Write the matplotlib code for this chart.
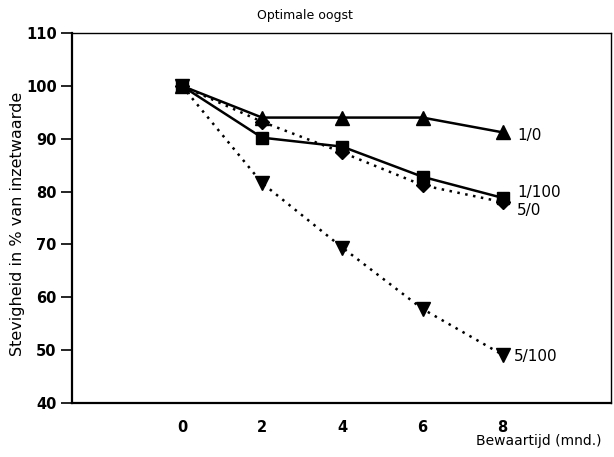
import matplotlib.pyplot as plt

# storage time in months
months = [0, 2, 4, 6, 8]

# firmness as % of initial value, per storage condition
firm_1_0 = [100, 94, 94, 94, 91.2]
firm_1_100 = [100, 90.2, 88.5, 82.8, 78.8]
firm_5_0 = [100, 93.2, 87.4, 81.2, 78]
firm_5_100 = [100, 81.6, 69.4, 57.8, 49.1]

labels = ['1/0', '1/100', '5/0', '5/100']
y_ticks = [40, 50, 60, 70, 80, 90, 100, 110]


def main():
    fig = plt.figure(figsize=(6.14, 4.57), dpi=100)
    ax = fig.add_axes([72 / 614, 54 / 457, 539 / 614, 370 / 457])

    ax.plot(months, firm_5_0, color='black', linestyle=(0, (1, 2.2)), linewidth=1.8,
            marker='D', markersize=7.5, zorder=3)
    ax.plot(months, firm_5_100, color='black', linestyle=(0, (1, 2.2)), linewidth=1.8,
            marker='v', markersize=9.5, zorder=3)
    ax.plot(months, firm_1_0, color='black', linestyle='-', linewidth=1.8,
            marker='^', markersize=9.5, zorder=4)
    ax.plot(months, firm_1_100, color='black', linestyle='-', linewidth=1.8,
            marker='s', markersize=8.5, zorder=4)

    # series names at the right-hand end
    ax.text(8.36, firm_1_0[-1] - 0.5, labels[0], fontsize=11, va='center')
    ax.text(8.36, firm_1_100[-1] + 1.1, labels[1], fontsize=11, va='center')
    ax.text(8.36, firm_5_0[-1] - 1.5, labels[2], fontsize=11, va='center')
    ax.text(8.27, firm_5_100[-1] - 0.3, labels[3], fontsize=11, va='center')

    ax.set_xlim(-2.74, 10.7)
    ax.set_ylim(40, 110)
    ax.set_yticks(y_ticks)
    ax.set_xticks(months)
    ax.tick_params(axis='y', direction='out', length=8, width=1.2, labelsize=10.5, pad=3)
    ax.tick_params(axis='x', length=0, labelsize=10.5, pad=12)
    for lab in ax.get_xticklabels() + ax.get_yticklabels():
        lab.set_fontweight('bold')
    for side in ['left', 'bottom']:
        ax.spines[side].set_linewidth(1.6)
    for side in ['top', 'right']:
        ax.spines[side].set_linewidth(1.0)

    fig.text(305 / 614, 1 - 15 / 457, 'Optimale oogst', fontsize=9, ha='center', va='center')
    fig.text(18 / 614, 1 - 224 / 457, 'Stevigheid in % van inzetwaarde', fontsize=11.5,
             rotation=90, ha='center', va='center')
    fig.text(601 / 614, 1 - 441 / 457, 'Bewaartijd (mnd.)', fontsize=10, ha='right', va='center')

    fig.savefig('out.png', dpi=100)


if __name__ == '__main__':
    main()
